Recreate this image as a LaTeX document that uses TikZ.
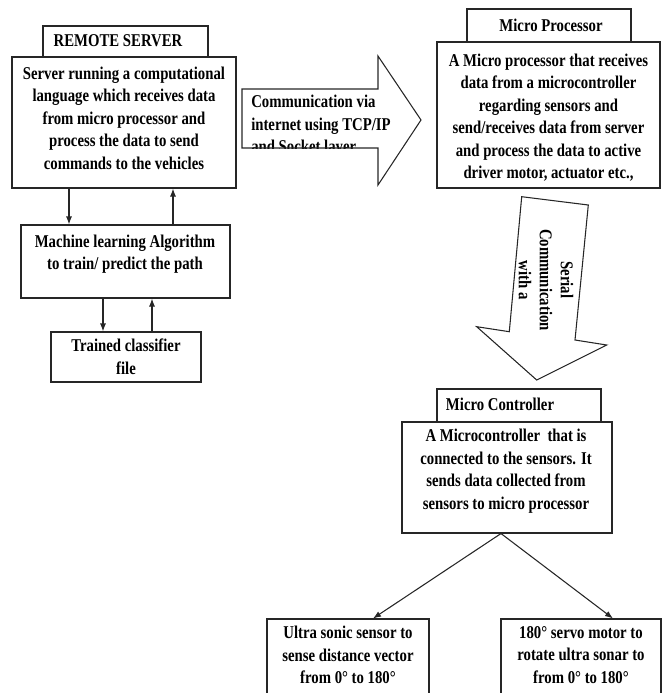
\documentclass[tikz,border=0pt]{standalone}
\usepackage{fontspec}
\setmainfont{Liberation Serif}[FakeStretch=0.82]
\usetikzlibrary{arrows.meta}

\begin{document}
\begin{tikzpicture}[x=0.75pt,y=0.75pt,yscale=-1,xscale=1,
  box/.style={draw=black!85,line width=0.8pt,inner sep=0pt},
  lbl/.style={align=center,inner sep=0pt,font=\fontsize{13.5}{16.9}\selectfont\bfseries},
  conn/.style={draw=black!85,line width=0.8pt,-{Latex[length=6pt,width=4.5pt]}}]
\useasboundingbox (0,0) rectangle (664,693);

%Shape: Rectangle [remote server]
\node[box,minimum width=123.75pt,minimum height=23.25pt] (srvtab) at (125.5,41.5) {};
\node[box,minimum width=168pt,minimum height=98.25pt] (server) at (124,122.5) {};
%Shape: Rectangle [machine learning]
\node[box,minimum width=156.75pt,minimum height=54.75pt] (ml) at (125.5,261.5) {};
%Shape: Rectangle [classifier]
\node[box,minimum width=112.5pt,minimum height=37.5pt] (clf) at (126,357) {};
%Shape: Rectangle [micro processor]
\node[box,minimum width=123pt,minimum height=24.75pt] (mptab) at (549,25.5) {};
\node[box,minimum width=167.25pt,minimum height=109.5pt] (mp) at (548.5,115) {};
%Shape: Rectangle [micro controller]
\node[box,minimum width=123pt,minimum height=24.75pt] (mctab) at (519,405.5) {};
\node[box,minimum width=157.5pt,minimum height=83.25pt] (mc) at (507,477.5) {};
%Shape: Rectangle [sensors]
\node[box,minimum width=121.5pt,minimum height=60.75pt] (us) at (348,659.5) {};
\node[box,minimum width=120pt,minimum height=60.75pt] (servo) at (581,659.5) {};

%Shape: Right Arrow [internet]
\begin{scope}
\clip (242,89) -- (378,89) -- (378,56) -- (421,120) -- (378,185) -- (378,148) -- (242,148) -- cycle;
% Text Node
\node[lbl,anchor=west,align=left] (commtext) at (251,126) {Communication via\\internet using TCP/IP\\and Socket layer};
\end{scope}
\draw[draw=black!85,line width=0.8pt] (242,89) -- (378,89) -- (378,56) -- (421,120) -- (378,185) -- (378,148) -- (242,148) -- cycle;

%Shape: Down Arrow [serial]
\draw[draw=black!85,line width=0.8pt] (521.7,196.7) -- (588.3,205) -- (575,340) -- (606.7,345) -- (536.7,380) -- (476.7,326.7) -- (509.3,331.7) -- cycle;
% Text Node
\node[lbl,rotate=-90,font=\fontsize{13.5}{15.8}\selectfont\bfseries] (serialtext) at (546,280) {Serial\\Communication\\with a};

% Text Node
\node[lbl] (srvtabtext) at (118,41) {REMOTE SERVER};
% Text Node
\node[lbl] (servertext) at (124,118) {Server running a computational\\language which receives data\\from micro processor and\\process the data to send\\commands to the vehicles};
% Text Node
\node[lbl] (mltext) at (125,254) {Machine learning Algorithm\\to train/ predict the path};
% Text Node
\node[lbl] (clftext) at (126,357) {Trained classifier\\file};
% Text Node
\node[lbl] (mptabtext) at (551,25) {Micro Processor};
% Text Node
\node[lbl] (mptext) at (548.5,117.5) {A Micro processor that receives\\data from a microcontroller\\regarding sensors and\\send/receives data from server\\and process the data to active\\driver motor, actuator etc.,};
% Text Node
\node[lbl] (mctabtext) at (500,404) {Micro Controller};
% Text Node
\node[lbl] (mctext) at (506,471) {A Microcontroller\ \ that is\\connected to the sensors. It\\sends data collected from\\sensors to micro processor};
% Text Node
\node[lbl] (ustext) at (348,655) {Ultra sonic sensor to\\sense distance vector\\from 0° to 180°};
% Text Node
\node[lbl] (servotext) at (581,655) {180° servo motor to\\rotate ultra sonar to\\from 0° to 180°};

%Straight Lines
\coordinate (dn1) at (69,0);
\coordinate (up1) at (173,0);
\coordinate (dn2) at (103,0);
\coordinate (up2) at (152,0);
\coordinate (mcout) at (501,0);
\coordinate (usin) at (373,0);
\coordinate (svin) at (613,0);
\draw[conn] (server.south -| dn1) -- (ml.north -| dn1);
\draw[conn] (ml.north -| up1) -- (server.south -| up1);
\draw[conn] (ml.south -| dn2) -- (clf.north -| dn2);
\draw[conn] (clf.north -| up2) -- (ml.south -| up2);
\draw[conn] (mc.south -| mcout) -- (us.north -| usin);
\draw[conn] (mc.south -| mcout) -- (servo.north -| svin);

\end{tikzpicture}
\end{document}
